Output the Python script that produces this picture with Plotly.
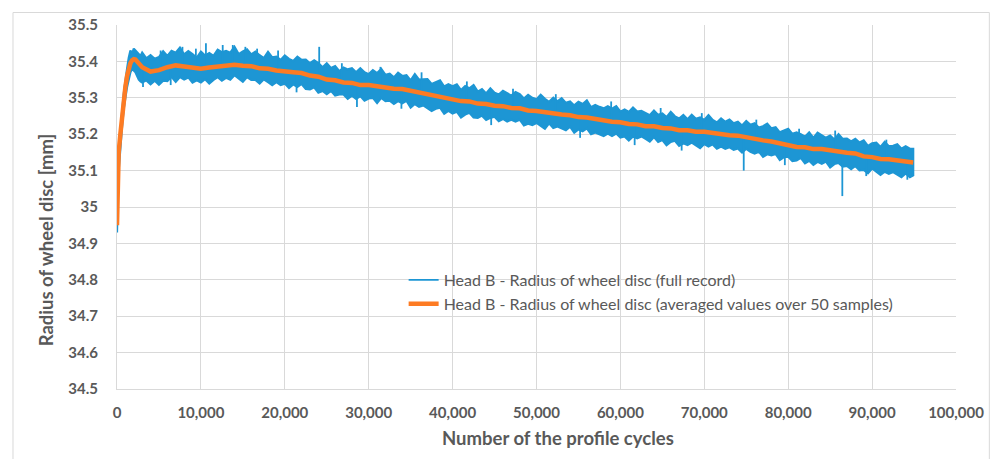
import plotly.graph_objects as go

# ---------------- data ----------------
# Blue series (full record): envelope of the noisy band, upper and lower values
early_x = [0, 50, 100, 250, 400, 600, 800, 1000, 1200, 1400, 1600, 1800, 2000, 2200, 2400, 2600, 2800]
early_upper = [34.94, 35.02, 35.10, 35.14, 35.20, 35.26, 35.31, 35.35, 35.38, 35.41, 35.43, 35.42, 35.435, 35.43, 35.425, 35.42, 35.415]
early_lower = [34.93, 34.98, 35.07, 35.11, 35.16, 35.22, 35.27, 35.30, 35.33, 35.35, 35.37, 35.38, 35.375, 35.37, 35.36, 35.35, 35.345]

band_x = list(range(3000, 94501, 500)) + [94900]
band_upper = [
    35.424, 35.408, 35.417, 35.407, 35.412, 35.428, 35.415, 35.429, 35.424, 35.438,   # 3000-7500
    35.419, 35.428, 35.420, 35.410, 35.427, 35.416, 35.423, 35.415, 35.432, 35.425,   # 8000-12500
    35.429, 35.424, 35.440, 35.420, 35.427, 35.433, 35.419, 35.427, 35.417, 35.409,   # 13000-17500
    35.426, 35.411, 35.413, 35.404, 35.416, 35.407, 35.401, 35.413, 35.404, 35.405,   # 18000-22500
    35.395, 35.403, 35.395, 35.384, 35.395, 35.382, 35.387, 35.373, 35.383, 35.378,   # 23000-27500
    35.381, 35.370, 35.381, 35.370, 35.365, 35.376, 35.368, 35.379, 35.363, 35.366,   # 28000-32500
    35.356, 35.369, 35.360, 35.362, 35.348, 35.365, 35.350, 35.350, 35.351, 35.338,   # 33000-37500
    35.343, 35.348, 35.331, 35.337, 35.332, 35.337, 35.321, 35.332, 35.326, 35.335,   # 38000-42500
    35.317, 35.324, 35.312, 35.326, 35.314, 35.309, 35.319, 35.313, 35.306, 35.316,   # 43000-47500
    35.310, 35.298, 35.308, 35.300, 35.296, 35.308, 35.297, 35.289, 35.300, 35.290,   # 48000-52500
    35.299, 35.286, 35.290, 35.279, 35.289, 35.283, 35.293, 35.274, 35.280, 35.275,   # 53000-57500
    35.271, 35.277, 35.270, 35.277, 35.262, 35.268, 35.261, 35.273, 35.262, 35.264,   # 58000-62500
    35.259, 35.252, 35.265, 35.253, 35.257, 35.247, 35.261, 35.249, 35.243, 35.253,   # 63000-67500
    35.241, 35.253, 35.242, 35.246, 35.239, 35.252, 35.239, 35.232, 35.243, 35.234,   # 68000-72500
    35.240, 35.230, 35.234, 35.224, 35.236, 35.226, 35.230, 35.218, 35.222, 35.229,   # 73000-77500
    35.216, 35.219, 35.205, 35.211, 35.215, 35.201, 35.205, 35.200, 35.193, 35.205,   # 78000-82500
    35.190, 35.204, 35.196, 35.190, 35.196, 35.185, 35.200, 35.187, 35.188, 35.180,   # 83000-87500
    35.187, 35.177, 35.183, 35.168, 35.175, 35.177, 35.165, 35.179, 35.167, 35.168,   # 88000-92500
    35.172, 35.160, 35.167, 35.160, 35.160,                                           # 93000-94500, 94900
]
band_lower = [
    35.342, 35.348, 35.337, 35.347, 35.336, 35.347, 35.346, 35.358, 35.344, 35.357,   # 3000-7500
    35.350, 35.356, 35.342, 35.348, 35.342, 35.351, 35.339, 35.349, 35.357, 35.347,   # 8000-12500
    35.355, 35.350, 35.362, 35.353, 35.344, 35.357, 35.349, 35.349, 35.339, 35.351,   # 13000-17500
    35.343, 35.335, 35.343, 35.335, 35.339, 35.327, 35.337, 35.330, 35.338, 35.324,   # 18000-22500
    35.323, 35.329, 35.314, 35.319, 35.310, 35.319, 35.306, 35.309, 35.309, 35.297,   # 23000-27500
    35.306, 35.297, 35.305, 35.292, 35.298, 35.300, 35.286, 35.300, 35.291, 35.292,   # 28000-32500
    35.283, 35.291, 35.285, 35.292, 35.273, 35.283, 35.275, 35.279, 35.272, 35.264,   # 33000-37500
    35.270, 35.273, 35.256, 35.264, 35.257, 35.262, 35.246, 35.254, 35.259, 35.246,   # 38000-42500
    35.245, 35.251, 35.239, 35.245, 35.248, 35.236, 35.242, 35.235, 35.240, 35.235,   # 43000-47500
    35.240, 35.224, 35.229, 35.225, 35.231, 35.224, 35.215, 35.230, 35.217, 35.221,   # 48000-52500
    35.217, 35.211, 35.221, 35.204, 35.213, 35.208, 35.216, 35.200, 35.205, 35.199,   # 53000-57500
    35.195, 35.202, 35.195, 35.202, 35.191, 35.194, 35.183, 35.194, 35.189, 35.194,   # 58000-62500
    35.187, 35.180, 35.192, 35.179, 35.184, 35.170, 35.179, 35.182, 35.168, 35.175,   # 63000-67500
    35.170, 35.177, 35.169, 35.162, 35.173, 35.166, 35.172, 35.160, 35.166, 35.160,   # 68000-72500
    35.164, 35.157, 35.161, 35.150, 35.160, 35.152, 35.147, 35.152, 35.138, 35.145,   # 73000-77500
    35.142, 35.146, 35.129, 35.137, 35.138, 35.126, 35.128, 35.135, 35.120, 35.127,   # 78000-82500
    35.116, 35.124, 35.119, 35.125, 35.109, 35.118, 35.121, 35.111, 35.113, 35.104,   # 83000-87500
    35.113, 35.101, 35.102, 35.093, 35.106, 35.096, 35.088, 35.097, 35.091, 35.096,   # 88000-92500
    35.089, 35.082, 35.092, 35.082, 35.087,                                           # 93000-94500, 94900
]

# isolated spikes of the full record (position, start value, tip value)
spike_x = [5200, 7800, 9400, 10600, 12600, 13800, 15300, 16700, 19200, 24100, 26800, 31400,
           36300, 41700, 47200, 52300, 58900, 64800, 69700, 76200, 81300, 85600, 91700,
           3100, 6400, 21400, 28600, 33900, 44600, 55200, 61700, 67300, 74700, 79600, 86450, 89300, 94200]
spike_from = [35.38, 35.385, 35.38, 35.38, 35.385, 35.39, 35.388, 35.384, 35.375, 35.357, 35.345, 35.331,
              35.314, 35.29, 35.272, 35.258, 35.235, 35.218, 35.207, 35.188, 35.165, 35.155, 35.131,
              35.38, 35.385, 35.37, 35.338, 35.323, 35.28, 35.248, 35.227, 35.211, 35.193, 35.172, 35.152, 35.14, 35.125]
spike_to = [35.43, 35.44, 35.435, 35.45, 35.445, 35.445, 35.44, 35.435, 35.43, 35.44, 35.395, 35.385,
            35.37, 35.345, 35.325, 35.31, 35.29, 35.272, 35.258, 35.24, 35.215, 35.21, 35.185,
            35.33, 35.335, 35.315, 35.275, 35.27, 35.225, 35.19, 35.17, 35.155, 35.10, 35.115, 35.03, 35.085, 35.075]

# Orange series (averaged values over 50 samples)
avg_x = [0, 20, 60, 200, 400, 600, 800, 1000, 1200, 1400, 1600, 1800, 2000, 2200, 2400, 2600, 2800] \
    + list(range(3000, 94001, 1000)) + [94900]
avg_y = [
    34.95, 35.0, 35.1, 35.15, 35.2, 35.25, 35.3, 35.33, 35.36, 35.38, 35.395, 35.403, 35.406, 35.405, 35.4, 35.395, 35.39,
    35.384, 35.372, 35.376, 35.384, 35.389, 35.386, 35.383, 35.380, 35.383, 35.386,   # 3k-12k
    35.388, 35.391, 35.388, 35.387, 35.381, 35.380, 35.375, 35.374, 35.370, 35.368,   # 13k-22k
    35.361, 35.358, 35.350, 35.348, 35.342, 35.341, 35.335, 35.335, 35.331, 35.330,   # 23k-32k
    35.325, 35.324, 35.319, 35.316, 35.309, 35.306, 35.299, 35.297, 35.291, 35.290,   # 33k-42k
    35.284, 35.283, 35.278, 35.277, 35.272, 35.271, 35.265, 35.264, 35.260, 35.259,   # 43k-52k
    35.254, 35.252, 35.247, 35.246, 35.241, 35.239, 35.234, 35.233, 35.228, 35.227,   # 53k-62k
    35.222, 35.222, 35.217, 35.216, 35.211, 35.211, 35.207, 35.207, 35.203, 35.202,   # 63k-72k
    35.197, 35.196, 35.191, 35.189, 35.183, 35.180, 35.174, 35.171, 35.165, 35.164,   # 73k-82k
    35.159, 35.159, 35.155, 35.154, 35.149, 35.147, 35.139, 35.137, 35.132, 35.131,   # 83k-92k
    35.127, 35.126, 35.122,                                                            # 93k, 94k, 94.9k
]

y_ticks = [34.5, 34.6, 34.7, 34.8, 34.9, 35.0, 35.1, 35.2, 35.3, 35.4, 35.5]
y_tick_labels = ["34.5", "34.6", "34.7", "34.8", "34.9", "35", "35.1", "35.2", "35.3", "35.4", "35.5"]
x_ticks = [0, 10000, 20000, 30000, 40000, 50000, 60000, 70000, 80000, 90000, 100000]
x_tick_labels = ["0", "10,000", "20,000", "30,000", "40,000", "50,000", "60,000", "70,000", "80,000", "90,000", "100,000"]

name_full = "Head B - Radius of wheel disc (full record)"
name_avg = "Head B - Radius of wheel disc (averaged values over 50 samples)"
x_title = "Number of the profile cycles"
y_title = "Radius of wheel disc [mm]"

# ---------------- figure ----------------
BLUE = "#1d96d4"
ORANGE = "#fd7b23"
GRID = "#d9d9d9"
TXT = "#595959"
FONT = "Lato"

env_x = early_x + band_x
env_up = early_upper + band_upper
env_lo = early_lower + band_lower

fig = go.Figure()
fig.add_trace(go.Scatter(
    x=env_x + env_x[::-1], y=env_up + env_lo[::-1],
    mode="lines", fill="toself", fillcolor=BLUE,
    line=dict(color=BLUE, width=2.2), showlegend=False,
    legendgroup="full", hoverinfo="skip",
))
sx, sy = [], []
for xv, a, b in zip(spike_x, spike_from, spike_to):
    sx += [xv, xv, None]
    sy += [a, b, None]
fig.add_trace(go.Scatter(
    x=sx, y=sy, mode="lines", name=name_full, legendgroup="full",
    line=dict(color=BLUE, width=1.8),
))
fig.add_trace(go.Scatter(
    x=avg_x, y=avg_y, mode="lines", name=name_avg,
    line=dict(color=ORANGE, width=4.5),
))

L, R, T, B = 117, 36, 25, 70
W, H = 996, 459
pw, ph = W - L - R, H - T - B


def px(xp):
    return (xp - L) / pw


def py(yp):
    return (H - B - yp) / ph


fig.update_layout(
    width=W, height=H,
    margin=dict(l=L, r=R, t=T, b=B),
    paper_bgcolor="white", plot_bgcolor="white",
    font=dict(family=FONT, color=TXT),
    showlegend=True,
    legend=dict(
        x=px(405), y=py(263), xanchor="left", yanchor="top",
        bgcolor="rgba(0,0,0,0)", borderwidth=0,
        font=dict(family=FONT, size=16, color=TXT),
        tracegroupgap=0,
    ),
    xaxis=dict(
        range=[0, 100000], tickvals=x_ticks, ticktext=x_tick_labels,
        showgrid=True, gridcolor=GRID, gridwidth=1, zeroline=False,
        showline=True, linecolor=GRID, ticks="", ticklabelstandoff=10,
        tickfont=dict(family=FONT, size=15, color=TXT, weight="bold"),
    ),
    yaxis=dict(
        range=[34.5, 35.5], tickvals=y_ticks, ticktext=y_tick_labels,
        showgrid=True, gridcolor=GRID, gridwidth=1, zeroline=False,
        showline=True, linecolor=GRID, ticks="", ticklabelstandoff=15,
        tickfont=dict(family=FONT, size=15, color=TXT, weight="bold"),
    ),
    annotations=[
        dict(text=y_title, xref="paper", yref="paper", x=px(46), y=py(240),
             textangle=-90, showarrow=False, xanchor="center", yanchor="middle",
             font=dict(family=FONT, size=18.5, color=TXT, weight="bold")),
        dict(text=x_title, xref="paper", yref="paper", x=px(560), y=py(438),
             showarrow=False, xanchor="center", yanchor="middle",
             font=dict(family=FONT, size=18.5, color=TXT, weight="bold")),
    ],
    shapes=[
        dict(type="rect", xref="paper", yref="paper",
             x0=px(12.5), x1=px(993.5), y0=py(475), y1=py(12.5),
             line=dict(color=GRID, width=1), fillcolor="rgba(0,0,0,0)", layer="below"),
    ],
)

fig.write_html("out.html")
